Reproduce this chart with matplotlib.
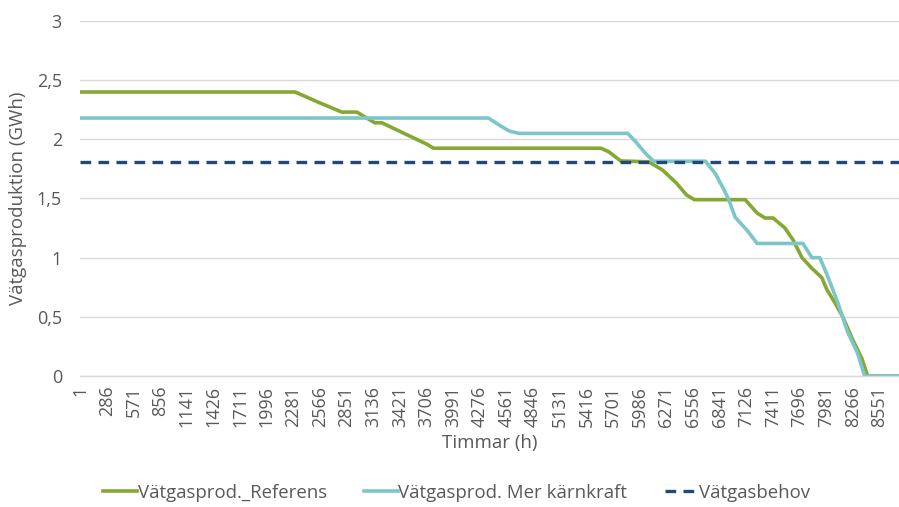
import matplotlib
matplotlib.use("Agg")
import matplotlib.pyplot as plt
from matplotlib.ticker import FuncFormatter

plt.rcParams["font.family"] = ["Open Sans", "DejaVu Sans"]

# Duration curves: hour (sorted) and hydrogen production (GWh)
ref_hours = [1, 2301, 2568, 2802, 2962, 3153, 3228, 3441, 3707, 3782, 5571, 5656,
             5784, 6083, 6232, 6380, 6487, 6572, 7115, 7243, 7328, 7414, 7541, 7627,
             7723, 7829, 7936, 7989, 8074, 8159, 8266, 8362, 8425, 8760]
ref_values = [2.40, 2.40, 2.307, 2.23, 2.23, 2.14, 2.14, 2.06, 1.96, 1.925, 1.925, 1.895,
              1.817, 1.81, 1.74, 1.63, 1.53, 1.49, 1.49, 1.377, 1.335, 1.335, 1.25, 1.15,
              1.0, 0.91, 0.83, 0.73, 0.62, 0.50, 0.305, 0.15, 0.0, 0.0]

nuc_hours = [1, 4368, 4485, 4592, 4698, 5859, 5944, 6050, 6136, 6690, 6796, 6871,
             6934, 7009, 7137, 7243, 7733, 7829, 7914, 7999, 8106, 8212, 8319, 8393, 8760]
nuc_values = [2.18, 2.18, 2.12, 2.07, 2.05, 2.05, 1.98, 1.88, 1.815, 1.815, 1.71, 1.60,
              1.50, 1.34, 1.23, 1.12, 1.12, 1.0, 1.0, 0.84, 0.62, 0.37, 0.19, 0.0, 0.0]

demand_hours = [1, 8760]
demand_value = 1.81

x_ticks = list(range(1, 8761, 285))
y_ticks = [0, 0.5, 1, 1.5, 2, 2.5, 3]

labels = ["Vätgasprod._Referens", "Vätgasprod. Mer kärnkraft", "Vätgasbehov"]

text_color = "#595959"
grid_color = "#D9D9D9"

fig = plt.figure(figsize=(8.99, 5.07), dpi=100)
ax = fig.add_axes([0.089, 0.2584, 0.911, 0.7002])

ax.plot(ref_hours, ref_values, color="#86A832", lw=2.6, label=labels[0],
        solid_joinstyle="round")
ax.plot(nuc_hours, nuc_values, color="#7EC5C9", lw=2.6, label=labels[1],
        solid_joinstyle="round")
ax.plot(demand_hours, [demand_value] * len(demand_hours), color="#1F497D", lw=2.4,
        ls=(0, (3.2, 2.2)), label=labels[2])

ax.set_xlim(0.5, 8760.5)
ax.set_ylim(0, 3)
ax.set_yticks(y_ticks)
ax.yaxis.set_major_formatter(FuncFormatter(lambda v, p: f"{v:g}".replace(".", ",")))
ax.set_xticks(x_ticks)
ax.set_xticklabels([str(t) for t in x_ticks], rotation=90)

ax.grid(axis="y", color=grid_color, lw=1.0)
ax.set_axisbelow(True)
for side in ["top", "right", "left"]:
    ax.spines[side].set_visible(False)
ax.spines["bottom"].set_color(grid_color)
ax.spines["bottom"].set_linewidth(1.0)
ax.tick_params(axis="both", length=0, colors=text_color, labelsize=13)
ax.tick_params(axis="x", pad=7)
ax.tick_params(axis="y", pad=13)

ax.set_xlabel("Timmar (h)", color=text_color, fontsize=13.5, labelpad=5)
ax.set_ylabel("Vätgasproduktion (GWh)", color=text_color, fontsize=13.5, labelpad=7)

leg = fig.legend(loc="center", bbox_to_anchor=(0.508, 0.028), ncol=3, frameon=False,
                 fontsize=13.4, handlelength=1.8, handletextpad=0.05, columnspacing=2.0)
for t in leg.get_texts():
    t.set_color(text_color)

fig.savefig("out.png", dpi=100)
